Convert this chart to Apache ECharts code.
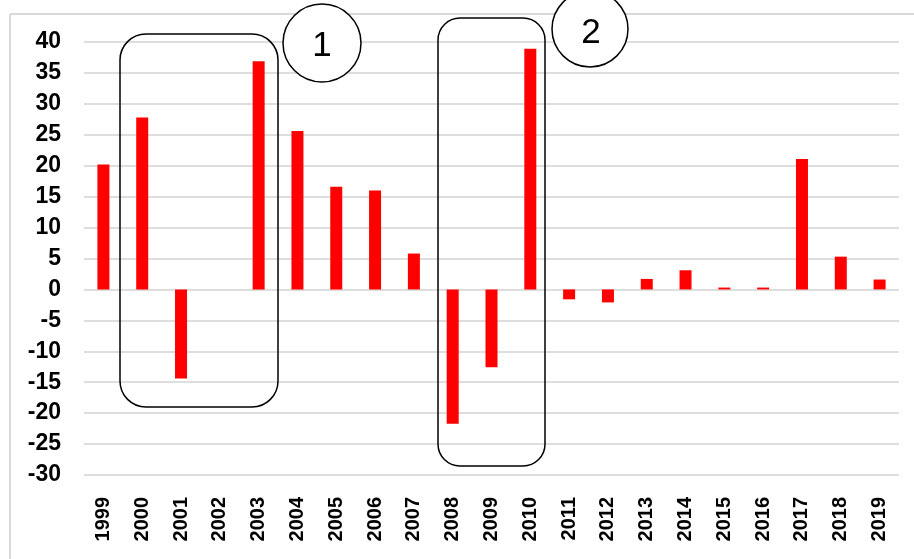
<!DOCTYPE html>
<html>
<head>
<meta charset="utf-8">
<script src="https://cdn.jsdelivr.net/npm/echarts@6/dist/echarts.min.js"></script>
<style>
html,body{margin:0;padding:0;background:#fff;}
#chart{width:914px;height:559px;}
</style>
</head>
<body>
<div id="chart"></div>
<script>
var years = ['1999','2000','2001','2002','2003','2004','2005','2006','2007','2008','2009','2010','2011','2012','2013','2014','2015','2016','2017','2018','2019'];
var values = [20.2, 27.8, -14.4, 0, 36.9, 25.6, 16.6, 16.0, 5.8, -21.7, -12.6, 38.9, -1.6, -2.1, 1.7, 3.1, 0.3, 0.3, 21.1, 5.3, 1.6];
var yMin = -30, yMax = 40, yStep = 5;
var calloutLabels = ['1', '2'];

var chart = echarts.init(document.getElementById('chart'), null, {renderer: 'canvas'});
var option = {
  animation: false,
  backgroundColor: '#ffffff',
  grid: {left: 84, right: 15, top: 42, bottom: 84, containLabel: false},
  xAxis: {
    type: 'category',
    data: years,
    axisLine: {show: false, onZero: false},
    axisTick: {show: false},
    splitLine: {show: false},
    axisLabel: {
      rotate: 90,
      margin: 22,
      interval: 0,
      color: '#000',
      fontFamily: 'Liberation Sans, Arial, sans-serif',
      fontWeight: 'bold',
      fontSize: 20
    }
  },
  yAxis: {
    type: 'value',
    min: yMin,
    max: yMax,
    interval: yStep,
    axisLine: {show: false},
    axisTick: {show: false},
    splitLine: {show: true, lineStyle: {color: '#dedede', width: 2}},
    axisLabel: {
      margin: 23,
      color: '#000',
      fontFamily: 'Liberation Sans, Arial, sans-serif',
      fontWeight: 'bold',
      fontSize: 23
    }
  },
  series: [{
    type: 'bar',
    data: values,
    barWidth: 12,
    itemStyle: {color: '#ff0000'}
  }],
  graphic: [
    {type: 'line', shape: {x1: 10, y1: 14, x2: 914, y2: 14}, style: {stroke: '#d9d9d9', lineWidth: 2}, z: 10},
    {type: 'line', shape: {x1: 10, y1: 14, x2: 10, y2: 559}, style: {stroke: '#d9d9d9', lineWidth: 2}, z: 10},
    {type: 'rect', shape: {x: 120, y: 34, width: 158, height: 373, r: 26}, style: {fill: 'none', stroke: '#000', lineWidth: 1.5}, z: 20},
    {type: 'rect', shape: {x: 438, y: 18, width: 107, height: 448, r: 22}, style: {fill: 'none', stroke: '#000', lineWidth: 1.5}, z: 20},
    {type: 'circle', shape: {cx: 322, cy: 43, r: 39}, style: {fill: '#fff', stroke: '#000', lineWidth: 1.5}, z: 20},
    {type: 'circle', shape: {cx: 590, cy: 29, r: 38}, style: {fill: '#fff', stroke: '#000', lineWidth: 1.5}, z: 20},
    {type: 'text', x: 322, y: 46, style: {text: calloutLabels[0], fill: '#000', font: '35px Liberation Sans, Arial, sans-serif', textAlign: 'center', textVerticalAlign: 'middle'}, z: 21},
    {type: 'text', x: 591, y: 33, style: {text: calloutLabels[1], fill: '#000', font: '35px Liberation Sans, Arial, sans-serif', textAlign: 'center', textVerticalAlign: 'middle'}, z: 21}
  ]
};
chart.setOption(option);
</script>
</body>
</html>
